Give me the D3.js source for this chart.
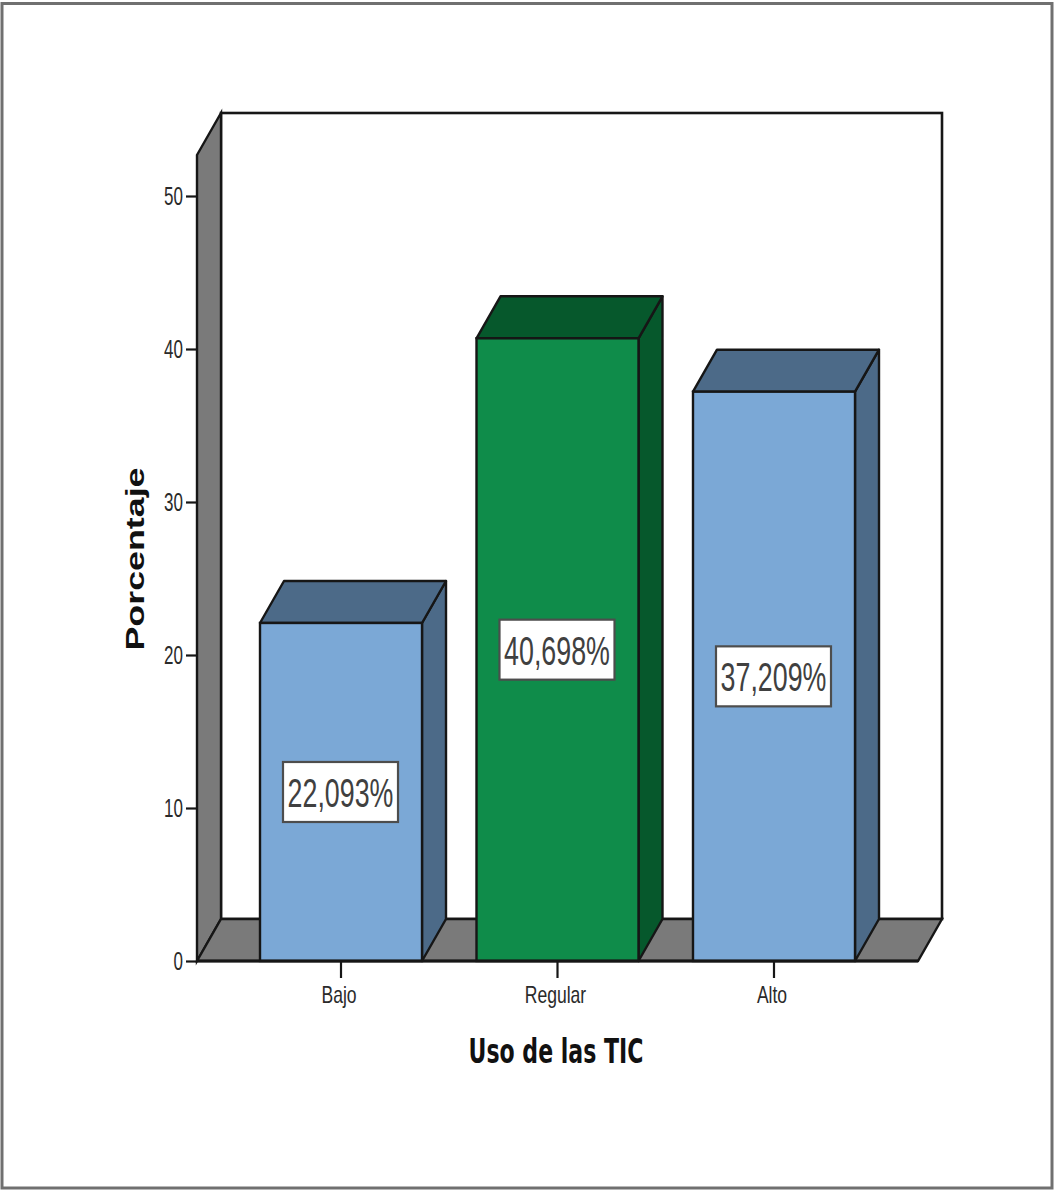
<!DOCTYPE html>
<html lang="es">
<head>
<meta charset="utf-8">
<title>Uso de las TIC</title>
<script src="https://cdn.jsdelivr.net/npm/d3@7/dist/d3.min.js"></script>
<style>
  html, body { margin: 0; padding: 0; background: #fff; }
  svg { display: block; }
</style>
</head>
<body>
<svg id="chart" width="1054" height="1190"></svg>
<script>
// Chart values
const categories = ["Bajo", "Regular", "Alto"];
const percentages = [22.093, 40.698, 37.209];
const valueLabels = ["22,093%", "40,698%", "37,209%"];
const yTicks = [0, 10, 20, 30, 40, 50];
const faceColors = ["#7BA8D6", "#0F8C4A", "#7BA8D6"];
const sideColors = ["#4C6A88", "#06582C", "#4C6A88"];
const xTitle = "Uso de las TIC";
const yTitle = "Porcentaje";

// Layout of the pseudo-3D box: front plane plus a fixed oblique depth
const front = { left: 197, right: 918, bottom: 961, top: 155 };
const depth = { dx: 24, dy: -42 };
const ink = "#161616";
const wallGray = "#7A7A7A";

const svg = d3.select("#chart");

const y = d3.scaleLinear()
  .domain([0, (front.bottom - front.top) / 15.3])
  .range([front.bottom, front.top]);

const x = d3.scaleBand()
  .domain(categories)
  .range([front.left, front.right])
  .paddingInner(0.2517)
  .paddingOuter(0.291);

const poly = pts => pts.map(p => p.join(",")).join(" ");

// Narrows a text element to the condensed look of the labels
function squeeze(sel, k) {
  sel.each(function () {
    const len = this.getComputedTextLength();
    d3.select(this).attr("textLength", len * k).attr("lengthAdjust", "spacingAndGlyphs");
  });
}

// Outer frame
svg.append("rect")
  .attr("x", 2).attr("y", 3.5)
  .attr("width", 1050).attr("height", 1184.5)
  .attr("fill", "#fff").attr("stroke", "#707070").attr("stroke-width", 3);

// Back wall
svg.append("rect")
  .attr("x", front.left + depth.dx).attr("y", front.top + depth.dy)
  .attr("width", front.right - front.left).attr("height", front.bottom - front.top)
  .attr("fill", "#fff").attr("stroke", ink).attr("stroke-width", 2.6);

// Left wall
svg.append("polygon")
  .attr("points", poly([
    [front.left, front.top],
    [front.left + depth.dx, front.top + depth.dy],
    [front.left + depth.dx, front.bottom + depth.dy],
    [front.left, front.bottom]
  ]))
  .attr("fill", wallGray).attr("stroke", ink).attr("stroke-width", 2.4);

// Floor
svg.append("polygon")
  .attr("points", poly([
    [front.left, front.bottom],
    [front.left + depth.dx, front.bottom + depth.dy],
    [front.right + depth.dx, front.bottom + depth.dy],
    [front.right, front.bottom]
  ]))
  .attr("fill", wallGray).attr("stroke", ink).attr("stroke-width", 2.4);

// Bars: side face, top face, front face
const bars = svg.append("g").selectAll("g")
  .data(categories.map((c, i) => ({ c, v: percentages[i], label: valueLabels[i], face: faceColors[i], side: sideColors[i] })))
  .join("g");

bars.append("polygon")
  .attr("points", d => {
    const x1 = x(d.c) + x.bandwidth();
    return poly([
      [x1, y(d.v)], [x1 + depth.dx, y(d.v) + depth.dy],
      [x1 + depth.dx, y(0) + depth.dy], [x1, y(0)]
    ]);
  })
  .attr("fill", d => d.side).attr("stroke", ink).attr("stroke-width", 2.4).attr("stroke-linejoin", "round");

bars.append("polygon")
  .attr("points", d => {
    const x0 = x(d.c), x1 = x0 + x.bandwidth();
    return poly([
      [x0, y(d.v)], [x0 + depth.dx, y(d.v) + depth.dy],
      [x1 + depth.dx, y(d.v) + depth.dy], [x1, y(d.v)]
    ]);
  })
  .attr("fill", d => d.side).attr("stroke", ink).attr("stroke-width", 2.4).attr("stroke-linejoin", "round");

bars.append("rect")
  .attr("x", d => x(d.c)).attr("y", d => y(d.v))
  .attr("width", x.bandwidth()).attr("height", d => y(0) - y(d.v))
  .attr("fill", d => d.face).attr("stroke", ink).attr("stroke-width", 2.4);

// Value labels sit at half the bar height
const labelW = 115, labelH = 60;
bars.append("rect")
  .attr("x", d => x(d.c) + x.bandwidth() / 2 - labelW / 2 - 0.5)
  .attr("y", d => y(d.v / 2) - labelH / 2)
  .attr("width", labelW).attr("height", labelH)
  .attr("fill", "#fff").attr("stroke", "#4d4d4d").attr("stroke-width", 2.2);

bars.append("text")
  .attr("x", d => x(d.c) + x.bandwidth() / 2 - 0.5)
  .attr("y", d => y(d.v / 2) + 15)
  .attr("text-anchor", "middle")
  .attr("font-family", "'Liberation Sans', Arial, sans-serif")
  .attr("font-size", 40)
  .attr("fill", "#404040")
  .text(d => d.label)
  .call(squeeze, 0.67);

// Axes
const axisFont = "'Liberation Sans', Arial, sans-serif";

const yAxis = svg.append("g")
  .attr("transform", `translate(${front.left},0)`)
  .call(d3.axisLeft(y).tickValues(yTicks).tickSize(11).tickPadding(3).tickFormat(d3.format("d")));
yAxis.select(".domain").remove();
yAxis.selectAll("line").attr("stroke", ink).attr("stroke-width", 2.2);
yAxis.selectAll("text")
  .attr("font-family", axisFont).attr("font-size", 25).attr("fill", "#2a2a2a")
  .call(squeeze, 0.68);

const xAxis = svg.append("g")
  .attr("transform", `translate(0,${front.bottom})`)
  .call(d3.axisBottom(x).tickSize(17).tickPadding(8));
xAxis.select(".domain")
  .attr("d", `M${front.left},0H${front.right}`)
  .attr("stroke", ink).attr("stroke-width", 3);
xAxis.selectAll("line").attr("stroke", ink).attr("stroke-width", 2.2);
xAxis.selectAll("text")
  .attr("dx", -2)
  .attr("font-family", axisFont).attr("font-size", 24).attr("fill", "#2a2a2a")
  .call(squeeze, 0.73);

// Axis titles
svg.append("text")
  .attr("x", 556).attr("y", 1063)
  .attr("text-anchor", "middle")
  .attr("font-family", "'DejaVu Sans', sans-serif").attr("font-weight", "bold")
  .attr("font-size", 33).attr("fill", "#111")
  .attr("textLength", 175).attr("lengthAdjust", "spacingAndGlyphs")
  .text(xTitle);

svg.append("text")
  .attr("transform", "translate(144,559) rotate(-90)")
  .attr("text-anchor", "middle")
  .attr("font-family", axisFont).attr("font-weight", "bold")
  .attr("font-size", 26).attr("fill", "#111")
  .attr("textLength", 183).attr("lengthAdjust", "spacingAndGlyphs")
  .text(yTitle);
</script>
</body>
</html>
